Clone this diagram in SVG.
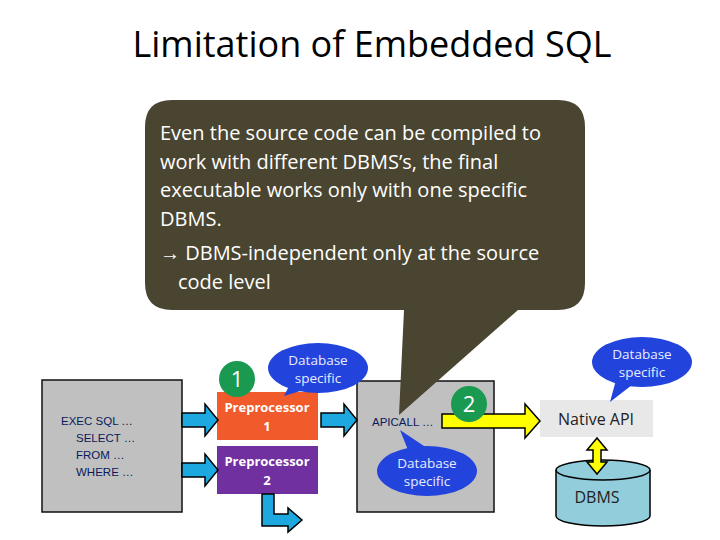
<svg xmlns="http://www.w3.org/2000/svg" width="720" height="540" viewBox="0 0 720 540">
<style>
.title{font-family:"Open Sans","Liberation Sans",sans-serif;font-size:36px;fill:#000}
.call{font-family:"Open Sans","Liberation Sans",sans-serif;font-size:20px;fill:#fff}
.code{font-family:"Liberation Sans Narrow","Liberation Sans",sans-serif;font-size:11.5px;fill:#0a1a5a}
.pp{font-family:"Open Sans","Liberation Sans",sans-serif;font-size:13px;font-weight:bold;fill:#fff}
.bub{font-family:"Open Sans","Liberation Sans",sans-serif;font-size:13.5px;fill:#e8ecff}
.num{font-family:"Open Sans","Liberation Sans",sans-serif;font-size:22px;fill:#fff}
.gray{fill:#c0c0c0;stroke:#111;stroke-width:1.5}
.barrow{fill:#1ea8e0;stroke:#000;stroke-width:1.5}
.yarrow{fill:#ffff00;stroke:#000;stroke-width:1.5}
.bubble{fill:#2244dd}
</style>
<rect width="720" height="540" fill="#fff"/>
<text class="title" x="372" y="57" text-anchor="middle">Limitation of Embedded SQL</text>

<g id="source"><rect class="gray" x="42" y="380" width="140" height="132"/>
<text class="code" x="61" y="425">EXEC  SQL  …</text>
<text class="code" x="76" y="442">SELECT …</text>
<text class="code" x="76" y="459">FROM …</text>
<text class="code" x="76" y="476">WHERE …</text></g>

<g id="pre1"><rect x="217" y="392" width="101" height="48" fill="#f15a2a"/>
<text class="pp" x="267" y="412" text-anchor="middle">Preprocessor</text>
<text class="pp" x="267" y="431" text-anchor="middle">1</text></g>
<g id="pre2"><rect x="217" y="446" width="101" height="48" fill="#7030a0"/>
<text class="pp" x="267" y="466" text-anchor="middle">Preprocessor</text>
<text class="pp" x="267" y="485" text-anchor="middle">2</text></g>

<g id="mid"><rect class="gray" x="357" y="381" width="137" height="131"/>
<text class="code" x="372" y="426">APICALL …</text></g>

<g id="native"><rect x="540" y="400" width="113" height="37" fill="#e8e8e8"/>
<text x="596" y="425" text-anchor="middle" style="font-family:'Open Sans','Liberation Sans',sans-serif;font-size:16px;fill:#222">Native API</text></g>

<g id="dbms">
<path d="M556,470 V516 A47,10 0 0 0 650,516 V470" fill="#92cddc" stroke="#000" stroke-width="1.5"/>
<ellipse cx="603" cy="470" rx="47" ry="10" fill="#92cddc" stroke="#000" stroke-width="1.5"/>
<text x="597" y="503" text-anchor="middle" style="font-family:'Open Sans','Liberation Sans',sans-serif;font-size:16px;fill:#222">DBMS</text></g>

<g id="connectors">
<path class="barrow" d="M182,413 H205 V404 L218,420 L205,436 V427 H182 Z"/>
<path class="barrow" d="M182,463 H205 V454 L218,470 L205,486 V477 H182 Z"/>
<path class="barrow" d="M321,413 H344 V404 L357,420 L344,436 V427 H321 Z"/>
<path class="barrow" d="M262,494 V526 H288 V532 L302,520 L288,508 V514 H274 V494 Z"/>
<path class="yarrow" d="M442,414 H525 V404 L540,421 L525,438 V428 H442 Z"/>
<path class="yarrow" d="M597,438 L607,450 H601 V462 H607 L597,474 L587,462 H593 V450 H587 Z"/>
</g>

<g id="callout">
<path d="M172,100 H558 Q585,100 585,127 V283 Q585,310 558,310 H518 L399,415 L404,310 H172 Q145,310 145,283 V127 Q145,100 172,100 Z" fill="#4a4530"/>
<text class="call" x="160" y="140">Even the source code can be compiled to</text>
<text class="call" x="160" y="169">work with different DBMS’s, the final</text>
<text class="call" x="160" y="197">executable works only with one specific</text>
<text class="call" x="160" y="226">DBMS.</text>
<text class="call" x="160" y="260">→  DBMS-independent only at the source</text>
<text class="call" x="178" y="289">code level</text>
</g>

<g id="b1"><path class="bubble" d="M284,396 L292,380 L310,388 Z"/><ellipse class="bubble" cx="318" cy="368" rx="50" ry="25"/>
<text class="bub" x="318" y="365" text-anchor="middle">Database</text><text class="bub" x="318" y="383" text-anchor="middle">specific</text></g>
<g id="b2"><path class="bubble" d="M400,430 L430,450 L410,455 Z"/><ellipse class="bubble" cx="427" cy="471" rx="50" ry="25"/>
<text class="bub" x="427" y="468" text-anchor="middle">Database</text><text class="bub" x="427" y="486" text-anchor="middle">specific</text></g>
<g id="b3"><path class="bubble" d="M610,402 L616,380 L632,385 Z"/><ellipse class="bubble" cx="642" cy="362" rx="50" ry="25"/>
<text class="bub" x="642" y="359" text-anchor="middle">Database</text><text class="bub" x="642" y="377" text-anchor="middle">specific</text></g>

<g id="n1"><circle cx="237" cy="379" r="18" fill="#1a9a50"/><text class="num" x="237" y="387" text-anchor="middle">1</text></g>
<g id="n2"><circle cx="469" cy="404" r="18" fill="#1a9a50"/><text class="num" x="469" y="412" text-anchor="middle">2</text></g>
</svg>
